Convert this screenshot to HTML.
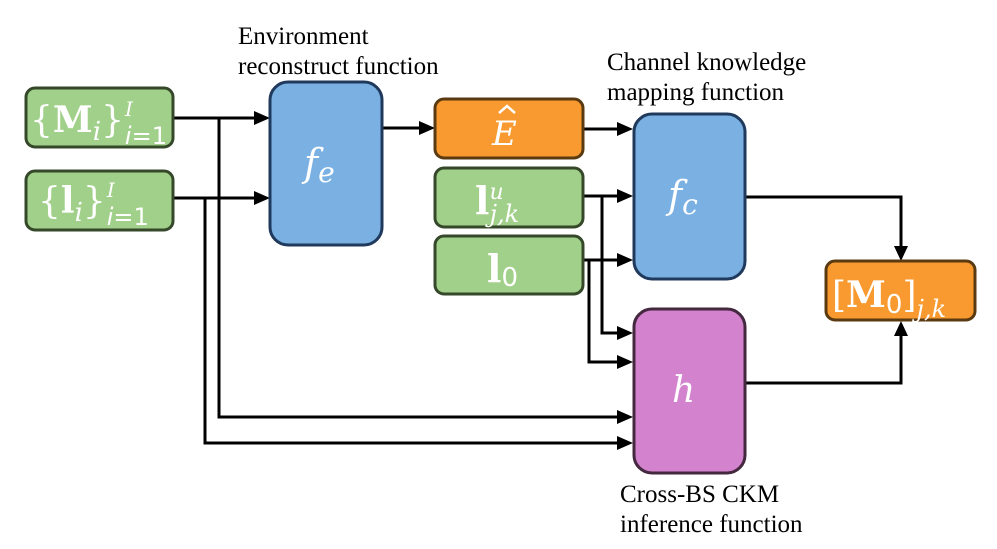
<!DOCTYPE html>
<html><head><meta charset="utf-8"><style>
html,body{margin:0;padding:0;background:#fff;}
svg{display:block;}
.lbl{font-family:"Liberation Serif",serif;font-size:25px;fill:#000;}
.m{font-family:"DejaVu Serif","Liberation Serif",serif;fill:#fff;}
</style></head><body>
<svg width="997" height="549" viewBox="0 0 997 549" xmlns="http://www.w3.org/2000/svg">
<g stroke="#000" stroke-width="3" fill="none">
<path d="M173,118 H258"/>
<path d="M173,198 H258"/>
<path d="M219,118 V417 H620"/>
<path d="M205,198 V443 H620"/>
<path d="M382,128 H422"/>
<path d="M583,129 H620"/>
<path d="M583,196 H620"/>
<path d="M583,260 H620"/>
<path d="M602,196 V333 H620"/>
<path d="M589,260 V362 H620"/>
<path d="M745,197 H901 V248"/>
<path d="M745,383 H901 V334"/>
</g>
<g fill="#000">
<path d="M254,111 L270,118 L254,125Z"/>
<path d="M254,191 L270,198 L254,205Z"/>
<path d="M419,121 L435,128 L419,135Z"/>
<path d="M617,122 L633,129 L617,136Z"/>
<path d="M617,189 L633,196 L617,203Z"/>
<path d="M617,253 L633,260 L617,267Z"/>
<path d="M617,326 L633,333 L617,340Z"/>
<path d="M617,355 L633,362 L617,369Z"/>
<path d="M617,410 L633,417 L617,424Z"/>
<path d="M617,436 L633,443 L617,450Z"/>
<path d="M894,246 L901,261 L908,246Z"/>
<path d="M894,336 L901,321 L908,336Z"/>
</g>
<rect x="26" y="88" width="147" height="59" rx="9" fill="#a1d08a" stroke="#35482a" stroke-width="3"/>
<rect x="26" y="171" width="147" height="59" rx="9" fill="#a1d08a" stroke="#35482a" stroke-width="3"/>
<rect x="270" y="82" width="112" height="163" rx="18" fill="#7bb0e3" stroke="#1f3a5c" stroke-width="3"/>
<rect x="435" y="99" width="148" height="59" rx="9" fill="#f89a2f" stroke="#5a3a10" stroke-width="3"/>
<rect x="435" y="168" width="148" height="59" rx="9" fill="#a1d08a" stroke="#35482a" stroke-width="3"/>
<rect x="435" y="236" width="148" height="58" rx="9" fill="#a1d08a" stroke="#35482a" stroke-width="3"/>
<rect x="634" y="114" width="111" height="165" rx="18" fill="#7bb0e3" stroke="#1f3a5c" stroke-width="3"/>
<rect x="634" y="309" width="111" height="164" rx="18" fill="#d382cd" stroke="#44283f" stroke-width="3"/>
<rect x="826" y="261" width="149" height="59" rx="9" fill="#f89a2f" stroke="#5a3a10" stroke-width="3"/>
<text class="m" x="30" y="132" font-size="36" font-family="Liberation Serif">{<tspan font-weight="bold">M</tspan><tspan font-family="DejaVu Serif" font-style="italic" font-size="26" dy="8">i</tspan><tspan dy="-8">}</tspan><tspan font-family="DejaVu Serif" font-style="italic" font-size="20" dx="1" dy="-16">I</tspan><tspan font-family="DejaVu Sans" font-style="italic" font-size="24" dx="-8" dy="28">i</tspan><tspan font-family="DejaVu Sans" font-size="24">=1</tspan></text>
<text class="m" x="38" y="213" font-size="36" font-family="Liberation Serif">{<tspan font-weight="bold">l</tspan><tspan font-family="DejaVu Serif" font-style="italic" font-size="26" dy="8">i</tspan><tspan dy="-8">}</tspan><tspan font-family="DejaVu Serif" font-style="italic" font-size="20" dx="1" dy="-16">I</tspan><tspan font-family="DejaVu Sans" font-style="italic" font-size="24" dx="-8" dy="28">i</tspan><tspan font-family="DejaVu Sans" font-size="24">=1</tspan></text>
<text class="m" x="304" y="176" font-size="38" font-style="italic">f<tspan font-size="28" dy="6">e</tspan></text>
<text class="m" x="492" y="145" font-size="34" font-style="italic">E</text>
<path d="M499,113 L507,106 L515,113" stroke="#fff" stroke-width="2.5" fill="none"/>
<text class="m" x="475" y="214" font-family="Liberation Serif" font-size="38" font-weight="bold">l<tspan font-family="DejaVu Serif" font-style="italic" font-weight="normal" font-size="22" dy="-15">u</tspan><tspan font-family="DejaVu Serif" font-style="italic" font-weight="normal" font-size="24" dx="-14" dy="23">j,k</tspan></text>
<text class="m" x="487" y="282" font-family="Liberation Serif" font-size="38" font-weight="bold">l<tspan font-family="DejaVu Sans" font-weight="normal" font-size="26" dy="4">0</tspan></text>
<text class="m" x="668" y="208" font-size="38" font-style="italic">f<tspan font-size="28" dy="6">c</tspan></text>
<text class="m" x="672" y="402" font-size="36" font-style="italic">h</text>
<text class="m" x="832" y="307" font-size="36" font-family="Liberation Serif">[<tspan font-weight="bold">M</tspan><tspan font-family="DejaVu Sans" font-size="26" dy="6">0</tspan><tspan dy="-6">]</tspan><tspan font-family="DejaVu Serif" font-style="italic" font-size="24" dy="10">j,k</tspan></text>
<text class="lbl" x="238" y="44">Environment</text>
<text class="lbl" x="238" y="74">reconstruct function</text>
<text class="lbl" x="607" y="70">Channel knowledge</text>
<text class="lbl" x="607" y="100">mapping function</text>
<text class="lbl" x="620" y="502">Cross-BS CKM</text>
<text class="lbl" x="620" y="532">inference function</text>
</svg>
</body></html>
